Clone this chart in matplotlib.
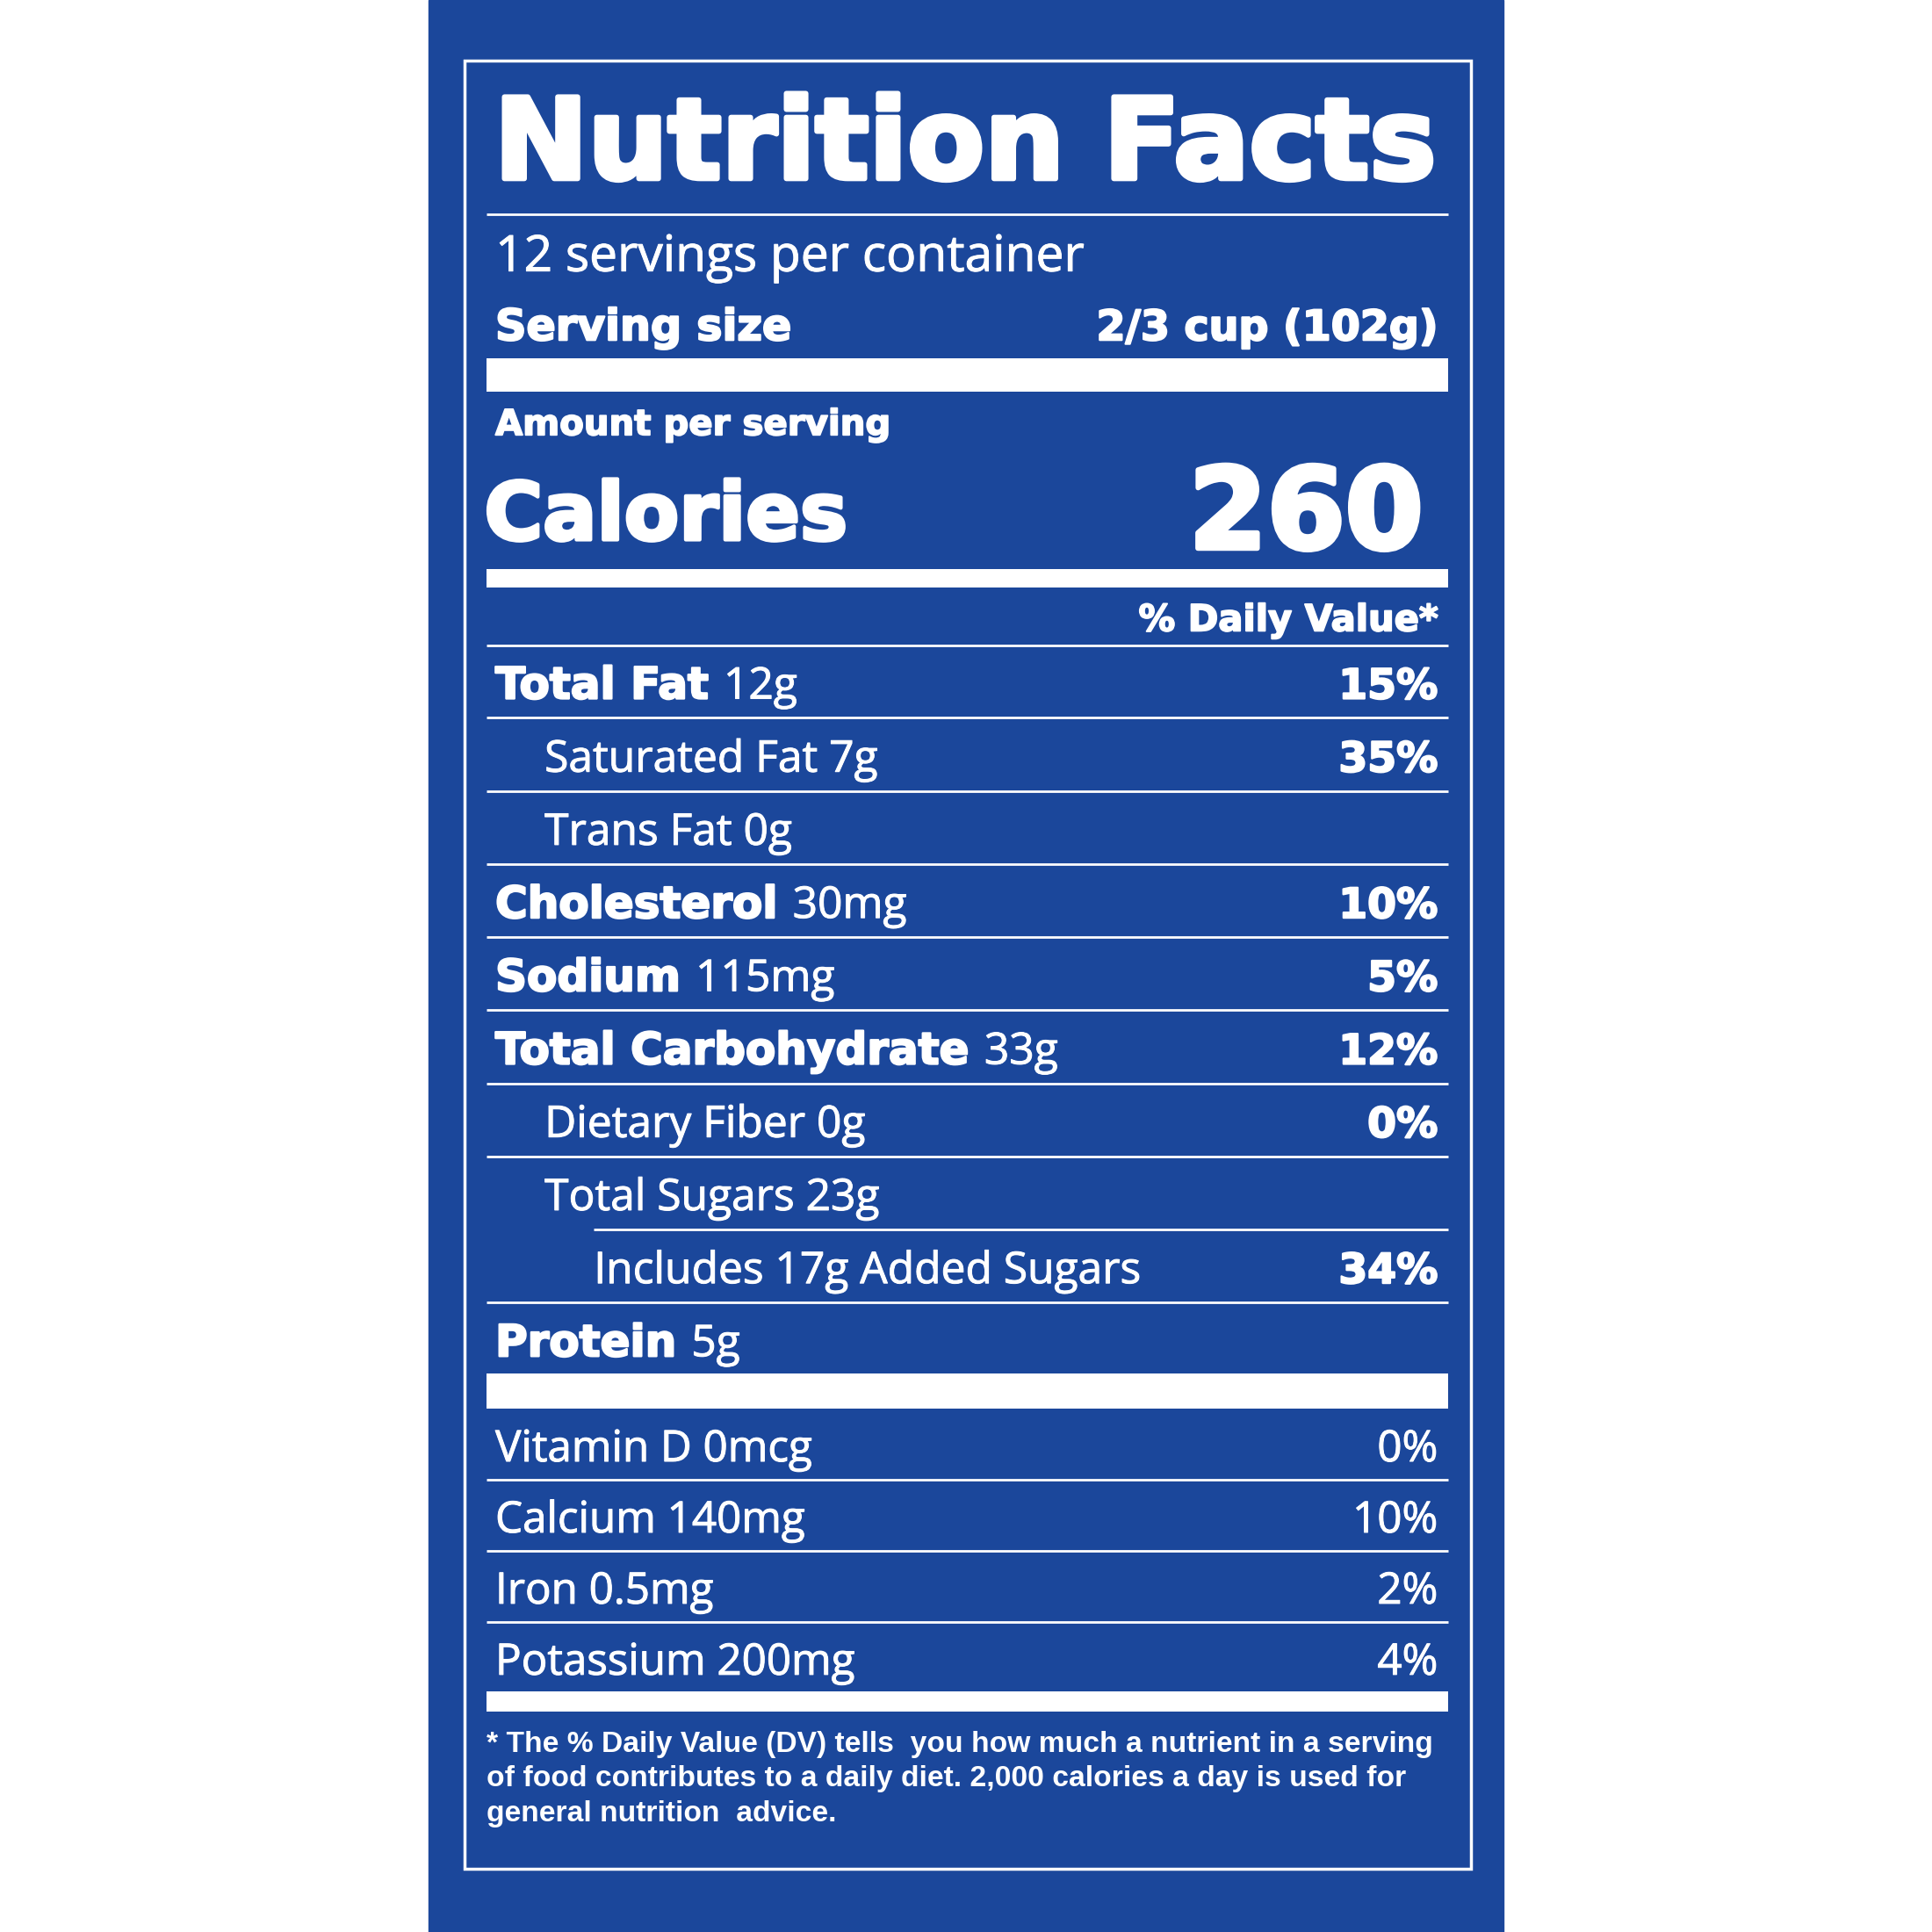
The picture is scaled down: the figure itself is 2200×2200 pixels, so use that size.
import matplotlib
matplotlib.use("Agg")
import matplotlib.pyplot as plt
import matplotlib.patheffects as pe
from matplotlib.patches import Rectangle

BLUE = "#1b479b"
WHITE = "white"

HEAVY = "DejaVu Sans"
REGULAR = ["Open Sans", "DejaVu Sans"]
ARIAL = ["Liberation Sans", "DejaVu Sans"]

# label data
title = "Nutrition Facts"
servings = "12 servings per container"
serving_label = "Serving size"
serving_value = "2/3 cup (102g)"
calories = "260"

nutrient_names = ["Total Fat", "Saturated Fat", "Trans Fat", "Cholesterol", "Sodium",
                  "Total Carbohydrate", "Dietary Fiber", "Total Sugars",
                  "Includes 17g Added Sugars", "Protein"]
nutrient_amounts = ["12g", "7g", "0g", "30mg", "115mg", "33g", "0g", "23g", "", "5g"]
nutrient_bold = [True, False, False, True, True, True, False, False, False, True]
nutrient_indent = [0, 1, 1, 0, 0, 0, 1, 1, 2, 0]
nutrient_dv = ["15%", "35%", "", "10%", "5%", "12%", "0%", "", "34%", ""]

vitamin_names = ["Vitamin D", "Calcium", "Iron", "Potassium"]
vitamin_amounts = ["0mcg", "140mg", "0.5mg", "200mg"]
vitamin_dv = ["0%", "10%", "2%", "4%"]

footnote = ["* The % Daily Value (DV) tells  you how much a nutrient in a serving",
            "of food contributes to a daily diet. 2,000 calories a day is used for",
            "general nutrition  advice."]

fig = plt.figure(figsize=(22, 22), dpi=100)
ax = fig.add_axes([0, 0, 1, 1])
ax.set_xlim(0, 1568)
ax.set_ylim(1568, 0)
ax.axis("off")

# panel + inner border
ax.add_patch(Rectangle((348, 0), 872, 1568, color=BLUE, zorder=0))
ax.add_patch(Rectangle((377, 49), 817, 1468, fill=False, ec=WHITE, lw=2.5, zorder=1))

L, R = 395, 1175
TX, TR = 402, 1167


def bar(y0, y1):
    ax.add_patch(Rectangle((L, y0), R - L, y1 - y0, color=WHITE, lw=0))


def rule(y, x0=L):
    ax.plot([x0, R], [y, y], color=WHITE, lw=2, solid_capstyle="butt")


def heavy(x, y, s, size, ha="left"):
    # DejaVu bold plus a white outline to get closer to a black-weight face
    return ax.text(x, y, s, color=WHITE, fontsize=size, family=HEAVY, weight="bold",
                   va="baseline", ha=ha,
                   path_effects=[pe.withStroke(linewidth=size * 0.045, foreground=WHITE)])


def regular(x, y, s, size, ha="left"):
    return ax.text(x, y, s, color=WHITE, fontsize=size, family=REGULAR,
                   va="baseline", ha=ha,
                   path_effects=[pe.withStroke(linewidth=0.7, foreground=WHITE)])


renderer = fig.canvas.get_renderer()
inv = ax.transData.inverted()


def label(x, y, bold_txt, reg_txt, size):
    """bold part in heavy font, regular part right after it"""
    if bold_txt:
        t = heavy(x, y, bold_txt, size + 1.5)
        bb = t.get_window_extent(renderer)
        x = inv.transform((bb.x1, bb.y0))[0] + 12
    if reg_txt:
        regular(x, y, reg_txt, size + 1.3)


# header
heavy(401, 145, title, 92)
rule(174)
regular(TX, 220, servings, 41)
heavy(TX, 276, serving_label, 35.4)
heavy(TR, 276, serving_value, 34.2, ha="right")
bar(291, 318)
heavy(TX, 353, "Amount per serving", 29)
heavy(393, 438, "Calories", 65.5)
heavy(1155, 445, calories, 92, ha="right")
bar(462, 477)
heavy(TR, 512, "% Daily Value*", 30, ha="right")
rule(524)

# nutrient rows
y0, step = 553, 59.3
for i, name in enumerate(nutrient_names):
    yc = y0 + i * step
    x = TX + 40 * nutrient_indent[i]
    if nutrient_bold[i]:
        label(x, yc + 14, name, nutrient_amounts[i], 34.5)
    else:
        txt = (name + " " + nutrient_amounts[i]).strip()
        label(x, yc + 14, "", txt, 34.5)
    if nutrient_dv[i]:
        heavy(TR, yc + 14, nutrient_dv[i], 34, ha="right")
    if i < len(nutrient_names) - 1:
        nxt = nutrient_indent[i + 1]
        rule(yc + step / 2, x0=L if nxt < 2 else TX + 80)
bar(1115, 1143)

# vitamins
v0, vstep = 1172, 57.7
for i, name in enumerate(vitamin_names):
    yc = v0 + i * vstep
    regular(TX, yc + 14, name + " " + vitamin_amounts[i], 35.5)
    regular(TR, yc + 14, vitamin_dv[i], 35.5, ha="right")
    if i < len(vitamin_names) - 1:
        rule(yc + vstep / 2)
bar(1373, 1389)

for i, line in enumerate(footnote):
    ax.text(L, 1422 + 28 * i, line, color=WHITE, fontsize=24.2, family=ARIAL,
            weight="bold", va="baseline")

fig.savefig("out.png", dpi=100, facecolor="white")
